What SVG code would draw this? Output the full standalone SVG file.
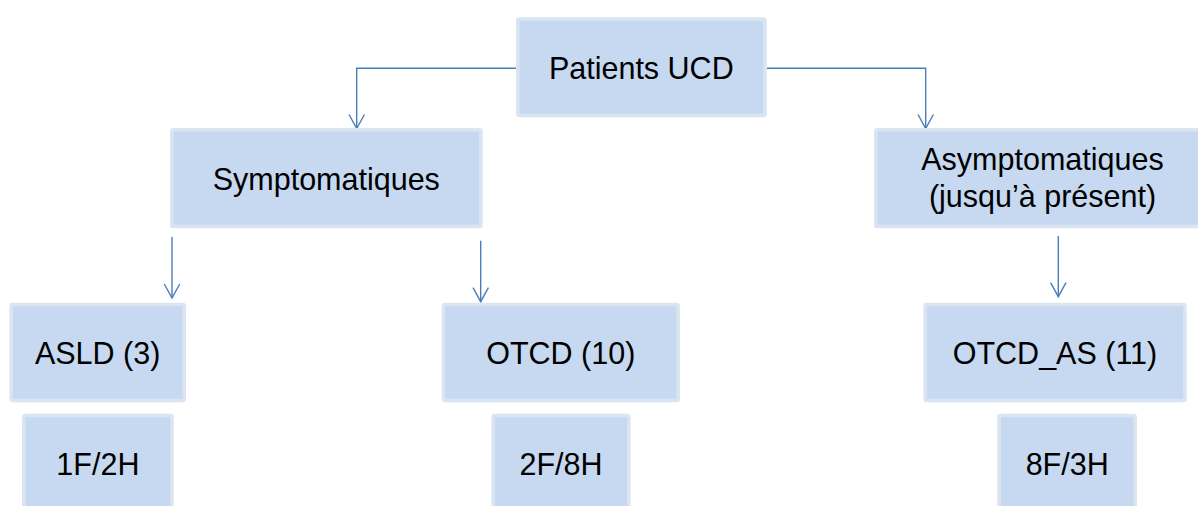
<svg xmlns="http://www.w3.org/2000/svg" width="1198" height="506" viewBox="0 0 1198 506">
  <style>
    .box { fill: #c6d9f1; stroke: #dbe5f1; stroke-width: 3.5; }
    .lbl { font-family: "Liberation Sans", Arial, sans-serif; font-size: 30.5px; fill: #000000; text-anchor: middle; }
    .conn { fill: none; stroke: #4a7ebb; stroke-width: 1.4; }
  </style>
  <defs>
    <marker id="arrow" markerUnits="userSpaceOnUse" viewBox="-16 -9 18 18" markerWidth="18" markerHeight="18" refX="0" refY="0" orient="auto" overflow="visible">
      <path d="M-14 -7.7 L0 0 L-14 7.7" fill="none" stroke="#4a7ebb" stroke-width="1.4"/>
    </marker>
  </defs>
  <rect width="1198" height="506" fill="#ffffff"/>

  <g id="connectors">
    <path class="conn" d="M516 68.3 H356.7 V128.5" marker-end="url(#arrow)"/>
    <path class="conn" d="M766.7 68.3 H925.7 V128.5" marker-end="url(#arrow)"/>
    <path class="conn" d="M172 237 V298" marker-end="url(#arrow)"/>
    <path class="conn" d="M480.7 240.7 V301.7" marker-end="url(#arrow)"/>
    <path class="conn" d="M1058.3 236 V296.7" marker-end="url(#arrow)"/>
  </g>

  <g id="patients">
    <rect class="box" x="517.8" y="19" width="247.2" height="96.6" rx="1.5"/>
    <text class="lbl" x="641.3" y="79">Patients UCD</text>
  </g>
  <g id="symptomatiques">
    <rect class="box" x="171.8" y="129.8" width="309.2" height="96.8" rx="1.5"/>
    <text class="lbl" x="326.3" y="189.5">Symptomatiques</text>
  </g>
  <g id="asymptomatiques">
    <rect class="box" x="875.8" y="129.8" width="333.4" height="96.8" rx="1.5"/>
    <text class="lbl" x="1042.5" y="170">Asymptomatiques</text>
    <text class="lbl" x="1042.5" y="206.5">(jusqu’à présent)</text>
  </g>
  <g id="asld">
    <rect class="box" x="11.1" y="304.5" width="173.2" height="96" rx="1.5"/>
    <text class="lbl" x="97.6" y="364">ASLD (3)</text>
  </g>
  <g id="otcd">
    <rect class="box" x="443.5" y="304.5" width="234.7" height="96" rx="1.5"/>
    <text class="lbl" x="560.8" y="364">OTCD (10)</text>
  </g>
  <g id="otcd_as">
    <rect class="box" x="925.1" y="304.5" width="259.8" height="96" rx="1.5"/>
    <text class="lbl" x="1055" y="364">OTCD_AS (11)</text>
  </g>
  <g id="asld_sex">
    <rect class="box" x="23.8" y="415.5" width="148.1" height="96" rx="1.5"/>
    <text class="lbl" x="97.9" y="475">1F/2H</text>
  </g>
  <g id="otcd_sex">
    <rect class="box" x="493.1" y="415.5" width="135.8" height="96" rx="1.5"/>
    <text class="lbl" x="561" y="475">2F/8H</text>
  </g>
  <g id="otcd_as_sex">
    <rect class="box" x="999.1" y="415.5" width="136.1" height="96" rx="1.5"/>
    <text class="lbl" x="1067.2" y="475">8F/3H</text>
  </g>
</svg>
